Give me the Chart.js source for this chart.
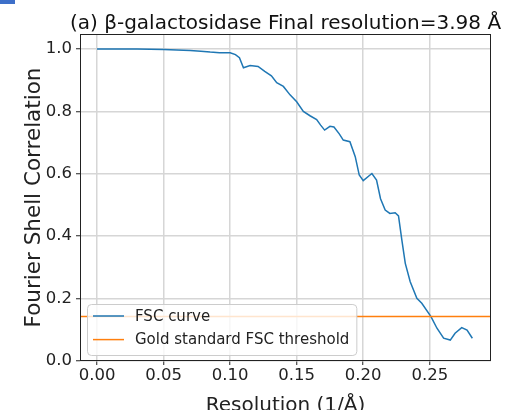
<!DOCTYPE html>
<html>
<head>
<meta charset="utf-8">
<script src="https://cdn.jsdelivr.net/npm/chart.js@4.4.0/dist/chart.umd.min.js"></script>
<style>
  html, body { margin: 0; padding: 0; background: #fff; }
  #wrap { position: relative; width: 507px; height: 410px; }
  #corner { position: absolute; left: 0; top: 0; width: 15px; height: 4px; background: #3d6fc9; }
</style>
</head>
<body>
<div id="wrap">
  <canvas id="fsc"></canvas>
  <div id="corner"></div>
</div>
<script>
// === DATA ===
const resolution = [0.000, 0.010, 0.020, 0.030, 0.040, 0.050, 0.060, 0.070, 0.078, 0.085,
    0.092, 0.100, 0.104, 0.107, 0.110, 0.115, 0.121, 0.126, 0.131, 0.135,
    0.140, 0.145, 0.150, 0.155, 0.160, 0.165, 0.168, 0.171, 0.175, 0.178,
    0.182, 0.185, 0.190, 0.194, 0.197, 0.200, 0.2065, 0.210, 0.213, 0.2165,
    0.220, 0.224, 0.2265, 0.229, 0.2316, 0.2353, 0.2403, 0.244, 0.2509, 0.2554,
    0.2604, 0.2654, 0.269, 0.274, 0.278, 0.282];
const fscCurve = [1.000, 1.000, 1.000, 1.000, 0.999, 0.998, 0.997, 0.995, 0.993, 0.990,
    0.988, 0.988, 0.982, 0.972, 0.940, 0.947, 0.944, 0.928, 0.914, 0.892,
    0.880, 0.853, 0.831, 0.800, 0.786, 0.774, 0.756, 0.740, 0.752, 0.750,
    0.728, 0.708, 0.703, 0.655, 0.596, 0.578, 0.601, 0.580, 0.520, 0.484,
    0.473, 0.475, 0.465, 0.388, 0.313, 0.254, 0.201, 0.185, 0.142, 0.105,
    0.073, 0.067, 0.089, 0.107, 0.099, 0.073];
const threshold = 0.143;
const xTicks = [0, 0.05, 0.10, 0.15, 0.20, 0.25];
const yTicks = [0, 0.2, 0.4, 0.6, 0.8, 1.0];
const xRange = [-0.0128, 0.296];
const yRange = [0, 1.048];

const titleText = '(a) β-galactosidase Final resolution=3.98 Å';
const FONT = "'DejaVu Sans', sans-serif";

// === PLUGINS ===
// top title, centred over the plot area like matplotlib does
const headingPlugin = {
    id: 'heading',
    afterDraw(chart) {
        const { ctx, chartArea } = chart;
        ctx.save();
        ctx.font = `20px ${FONT}`;
        ctx.fillStyle = '#111';
        ctx.textAlign = 'center';
        ctx.textBaseline = 'alphabetic';
        ctx.fillText(titleText, (chartArea.left + chartArea.right) / 2, 29);
        ctx.restore();
    }
};

// full box of spines
const framePlugin = {
    id: 'frame',
    afterDatasetsDraw(chart) {
        const { ctx, chartArea: a } = chart;
        ctx.save();
        ctx.strokeStyle = '#222';
        ctx.lineWidth = 1;
        ctx.strokeRect(a.left + 0.5, a.top + 0.5, a.right - a.left - 1, a.bottom - a.top - 1);
        ctx.restore();
    }
};

// legend inside the axes, lower left
const boxLegendPlugin = {
    id: 'boxLegend',
    afterDraw(chart) {
        const { ctx, chartArea: a } = chart;
        const sets = chart.data.datasets;
        ctx.save();
        ctx.font = `15px ${FONT}`;
        const textW = Math.max(...sets.map(d => ctx.measureText(d.label).width));
        const x0 = a.left + 7, bottom = a.bottom - 6;
        const rowH = 23.6, h = 51;
        const w = 6 + 31 + 11 + textW + 7;
        const y0 = bottom - h;
        ctx.fillStyle = 'rgba(255,255,255,0.8)';
        ctx.strokeStyle = '#cccccc';
        ctx.lineWidth = 1;
        ctx.beginPath();
        ctx.roundRect(x0 + 0.5, y0 + 0.5, w, h, 4);
        ctx.fill();
        ctx.stroke();
        ctx.textBaseline = 'middle';
        ctx.textAlign = 'left';
        sets.forEach((d, i) => {
            const y = y0 + 12 + i * rowH;
            ctx.strokeStyle = d.borderColor;
            ctx.lineWidth = 1.5;
            ctx.beginPath();
            ctx.moveTo(x0 + 6, y);
            ctx.lineTo(x0 + 37, y);
            ctx.stroke();
            ctx.fillStyle = '#222';
            ctx.fillText(d.label, x0 + 48, y + 1);
        });
        ctx.restore();
    }
};

// === CHART ===
Chart.defaults.font.family = FONT;
Chart.defaults.color = '#222';

new Chart(document.getElementById('fsc'), {
    type: 'line',
    data: {
        datasets: [{
            label: 'FSC curve',
            data: resolution.map((r, i) => ({ x: r, y: fscCurve[i] })),
            borderColor: '#1f77b4', borderWidth: 1.5,
            pointRadius: 0, tension: 0, fill: false, order: 2
        }, {
            label: 'Gold standard FSC threshold',
            data: xRange.map(r => ({ x: r, y: threshold })),
            borderColor: '#ff7f0e', borderWidth: 1.5,
            pointRadius: 0, tension: 0, fill: false, order: 1
        }]
    },
    options: {
        responsive: true, maintainAspectRatio: false,
        animation: false,
        layout: { padding: { top: 34, right: 16, left: 0, bottom: 0 } },
        plugins: { legend: { display: false }, tooltip: { enabled: false }, title: { display: false } },
        scales: {
            x: {
                type: 'linear', min: xRange[0], max: xRange[1],
                afterBuildTicks: axis => { axis.ticks = xTicks.map(v => ({ value: v })); },
                afterFit: axis => { axis.height = 49; },
                ticks: { font: { size: 16.5 }, color: '#222', padding: 1, maxRotation: 0,
                    callback: v => v.toFixed(2) },
                grid: { color: '#d6d6d6', lineWidth: 1.5, tickColor: '#222', tickLength: 4, tickWidth: 1 },
                border: { display: false },
                title: { display: true, text: 'Resolution (1/Å)', font: { size: 20, lineHeight: 1 },
                    color: '#222', padding: { top: 0, bottom: -6 } }
            },
            y: {
                type: 'linear', min: yRange[0], max: yRange[1],
                afterBuildTicks: axis => { axis.ticks = yTicks.map(v => ({ value: v })); },
                afterFit: axis => { axis.width = 80; },
                ticks: { font: { size: 16.5 }, color: '#222', padding: 4,
                    callback: v => v.toFixed(1) },
                grid: { color: '#d6d6d6', lineWidth: 1.5, tickColor: '#222', tickLength: 4, tickWidth: 1 },
                border: { display: false },
                title: { display: true, text: 'Fourier Shell Correlation', font: { size: 21.5, lineHeight: 1.2 },
                    color: '#222', padding: { top: 22, bottom: 0 } }
            }
        }
    },
    plugins: [headingPlugin, framePlugin, boxLegendPlugin]
});
</script>
</body>
</html>
